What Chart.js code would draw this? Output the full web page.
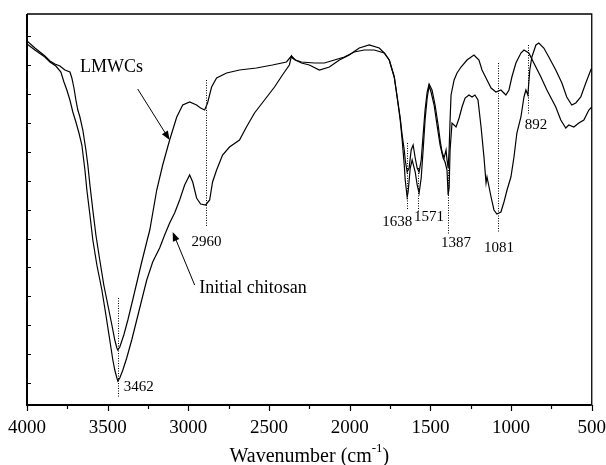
<!DOCTYPE html>
<html>
<head>
<meta charset="utf-8">
<script src="https://cdn.jsdelivr.net/npm/chart.js@4.4.0/dist/chart.umd.min.js"></script>
<style>
  html, body { margin: 0; padding: 0; background: #fff; }
  #wrap { width: 606px; height: 465px; position: relative; }
</style>
</head>
<body>
<div id="wrap"><canvas id="ftirChart"></canvas></div>
<script>
// Initial chitosan: wavenumber (cm-1) and transmittance (a.u.)
const chitosanWave = [4000,3951,3889,3858,3821,3790,3771,3753,3734,3716,
    3697,3678,3660,3641,3629,3610,3592,3567,3536,3511,
    3487,3468,3456,3443,3437,3425,3406,3382,3351,3320,
    3289,3258,3221,3178,3147,3116,3085,3054,3023,2992,
    2973,2949,2924,2893,2868,2850,2825,2788,2745,2683,
    2640,2590,2528,2466,2417,2374,2361,2355,2337,2299,
    2250,2188,2126,2064,2003,1941,1879,1817,1786,1755,
    1724,1706,1687,1675,1662,1656,1644,1638,1625,1613,
    1594,1582,1570,1557,1545,1533,1520,1508,1496,1477,
    1459,1440,1421,1409,1397,1390,1384,1378,1366,1341,
    1322,1304,1285,1261,1242,1224,1205,1186,1168,1155,
    1149,1124,1106,1088,1063,1044,1025,1001,982,964,
    939,920,908,896,884,871,846,828,797,766,
    723,685,655,624,599,568,537,506,500];
const chitosanTrans = [339,333,326,321,317,311,301,293,283,271,
    261,250,238,213,193,168,143,118,93,68,
    43,23,13,5,2,5,13,25,43,63,
    83,103,121,135,148,160,170,183,198,208,
    201,185,179,178,183,201,213,228,236,243,
    256,270,283,296,308,318,327,325,323,320,
    318,313,316,323,328,335,338,335,330,323,
    306,286,263,243,218,203,186,191,215,223,
    211,198,190,205,233,263,285,297,291,278,
    258,238,225,221,213,188,195,233,260,256,
    265,276,285,288,286,288,283,256,226,200,
    206,186,173,169,171,181,193,206,226,250,
    266,286,293,288,313,326,338,340,335,326,
    313,300,286,278,280,286,300,313,315];

// LMWCs
const lmwcWave = [4000,3951,3889,3858,3827,3796,3765,3734,3722,3709,
    3697,3685,3672,3654,3635,3623,3610,3592,3573,3549,
    3524,3499,3474,3456,3443,3437,3425,3400,3375,3345,
    3320,3289,3258,3239,3196,3159,3116,3072,3035,2992,
    2949,2924,2899,2881,2856,2825,2763,2683,2578,2479,
    2392,2361,2349,2337,2299,2219,2157,2095,2033,1972,
    1910,1848,1786,1755,1724,1706,1687,1675,1662,1656,
    1644,1632,1619,1607,1594,1582,1570,1557,1545,1533,
    1520,1508,1490,1471,1452,1440,1428,1415,1403,1397,
    1390,1384,1378,1372,1353,1335,1310,1273,1230,1199,
    1180,1149,1124,1094,1063,1032,1013,995,970,939,
    920,890,859,815,778,723,692,661,642,611,
    580,549,518,500];
const lmwcTrans = [342,335,327,322,319,317,313,311,305,295,
    283,273,266,253,233,218,198,173,148,123,
    98,78,58,43,35,33,36,48,63,83,
    100,121,141,153,193,218,243,266,278,281,
    278,275,273,280,296,305,310,313,315,318,
    321,327,325,323,321,320,320,323,326,331,
    333,333,330,323,306,286,265,248,233,223,
    211,215,233,238,225,215,211,223,248,273,
    291,299,293,278,258,243,231,225,233,223,
    215,233,263,288,303,310,316,323,328,323,
    313,303,295,291,293,288,293,306,320,330,
    333,330,320,306,293,276,263,255,258,256,
    260,263,273,276];

// axis tick labels (x) and unlabeled tick marks (y)
const xTickLabels = [4000, 3500, 3000, 2500, 2000, 1500, 1000, 500];
const yTickValues = [0, 28.9, 57.8, 86.7, 115.6, 144.5, 173.4, 202.3, 231.2, 260.1, 289, 317.9, 346.8];

// band assignments: dotted marker line and its label
const peakLabels = ['3462', '2960', '1638', '1571', '1387', '1081', '892'];
const peakWave = [3437, 2893, 1642, 1574, 1389, 1084, 895];
const peakTop = [85, 303, 240, 215, 218, 320, 338];
const peakBottom = [-14, 156, 173, 171, 148, 150, 268];
const peakLabelWave = [3307, 2887, 1706, 1508, 1341, 1075, 846];
const peakLabelTrans = [-4, 141, 161, 166, 140, 135, 258];

// curve names with arrows
const curveNames = ['LMWCs', 'Initial chitosan'];
const nameWave = [3477, 2599];
const nameTrans = [316, 95];
const arrowFromWave = [3314, 2961];
const arrowFromTrans = [294, 98];
const arrowToWave = [3116, 3097];
const arrowToTrans = [243, 151];

const SERIF = "'Liberation Serif', 'Times New Roman', serif";

function toPoints(xs, ys) {
    return xs.map((w, i) => ({ x: w, y: ys[i] }));
}

function drawArrow(ctx, x1, y1, x2, y2) {
    const ang = Math.atan2(y2 - y1, x2 - x1);
    const len = 9, half = 3.5;
    ctx.beginPath();
    ctx.moveTo(x1, y1);
    ctx.lineTo(x2 - Math.cos(ang) * len * 0.8, y2 - Math.sin(ang) * len * 0.8);
    ctx.stroke();
    ctx.beginPath();
    ctx.moveTo(x2, y2);
    ctx.lineTo(x2 - Math.cos(ang) * len - Math.sin(ang) * half, y2 - Math.sin(ang) * len + Math.cos(ang) * half);
    ctx.lineTo(x2 - Math.cos(ang) * len + Math.sin(ang) * half, y2 - Math.sin(ang) * len - Math.cos(ang) * half);
    ctx.closePath();
    ctx.fill();
}

// frame, tick marks, band markers, labels and axis title
const spectrumDecor = {
    id: 'spectrumDecor',
    afterDatasetsDraw(chart) {
        const { ctx, chartArea: a, scales: { x, y } } = chart;
        ctx.save();
        ctx.strokeStyle = '#000';
        ctx.fillStyle = '#000';

        // box
        ctx.lineWidth = 1.3;
        ctx.beginPath();
        ctx.moveTo(a.left, a.top);
        ctx.lineTo(a.right, a.top);
        ctx.lineTo(a.right, a.bottom);
        ctx.stroke();
        ctx.lineWidth = 2;
        ctx.beginPath();
        ctx.moveTo(a.left, a.top);
        ctx.lineTo(a.left, a.bottom);
        ctx.lineTo(a.right, a.bottom);
        ctx.stroke();

        // tick marks
        ctx.lineWidth = 1.2;
        ctx.beginPath();
        yTickValues.forEach(v => {
            const py = Math.round(y.getPixelForValue(v)) + 0.5;
            ctx.moveTo(a.left, py);
            ctx.lineTo(a.left + 4, py);
        });
        for (let w = 500; w <= 4000; w += 250) {
            const px = Math.round(x.getPixelForValue(w)) + 0.5;
            ctx.moveTo(px, a.bottom);
            ctx.lineTo(px, a.bottom + (w % 500 === 0 ? 6 : 4));
        }
        ctx.stroke();

        // dotted band markers
        ctx.lineWidth = 1;
        ctx.setLineDash([1, 1.5]);
        peakWave.forEach((w, i) => {
            const px = Math.round(x.getPixelForValue(w)) + 0.5;
            ctx.beginPath();
            ctx.moveTo(px, y.getPixelForValue(peakTop[i]));
            ctx.lineTo(px, y.getPixelForValue(peakBottom[i]));
            ctx.stroke();
        });
        ctx.setLineDash([]);

        ctx.textAlign = 'center';
        ctx.textBaseline = 'middle';
        ctx.font = '15px ' + SERIF;
        peakLabels.forEach((t, i) => {
            ctx.fillText(t, x.getPixelForValue(peakLabelWave[i]), y.getPixelForValue(peakLabelTrans[i]));
        });

        // curve names and arrows
        ctx.font = '18px ' + SERIF;
        curveNames.forEach((t, i) => {
            ctx.fillText(t, x.getPixelForValue(nameWave[i]), y.getPixelForValue(nameTrans[i]));
            ctx.lineWidth = 1;
            drawArrow(ctx,
                x.getPixelForValue(arrowFromWave[i]), y.getPixelForValue(arrowFromTrans[i]),
                x.getPixelForValue(arrowToWave[i]), y.getPixelForValue(arrowToTrans[i]));
        });

        // x axis title with superscript
        const main = 'Wavenumber (cm', sup = '-1', tail = ')';
        ctx.font = '20px ' + SERIF;
        const wMain = ctx.measureText(main).width;
        const wTail = ctx.measureText(tail).width;
        ctx.font = '13px ' + SERIF;
        const wSup = ctx.measureText(sup).width;
        let tx = (a.left + a.right) / 2 - (wMain + wSup + wTail) / 2;
        const ty = a.bottom + 52;
        ctx.textAlign = 'left';
        ctx.font = '20px ' + SERIF;
        ctx.fillText(main, tx, ty);
        tx += wMain;
        ctx.font = '13px ' + SERIF;
        ctx.fillText(sup, tx, ty - 8);
        tx += wSup;
        ctx.font = '20px ' + SERIF;
        ctx.fillText(tail, tx, ty);

        ctx.restore();
    }
};

function createSpectrumChart() {
    const ctx = document.getElementById('ftirChart').getContext('2d');

    new Chart(ctx, {
        type: 'line',
        data: {
            datasets: [
                {
                    label: 'Initial chitosan',
                    data: toPoints(chitosanWave, chitosanTrans),
                    borderColor: '#000',
                    borderWidth: 1.2,
                    pointRadius: 0,
                    tension: 0,
                    fill: false
                },
                {
                    label: 'LMWCs',
                    data: toPoints(lmwcWave, lmwcTrans),
                    borderColor: '#000',
                    borderWidth: 1.2,
                    pointRadius: 0,
                    tension: 0,
                    fill: false
                }
            ]
        },
        options: {
            responsive: true,
            maintainAspectRatio: false,
            animation: false,
            devicePixelRatio: 1,
            layout: {
                padding: { top: 14, right: 0, left: 0, bottom: 0 }
            },
            plugins: {
                legend: { display: false },
                tooltip: { enabled: false }
            },
            scales: {
                x: {
                    type: 'linear',
                    reverse: true,
                    min: 500,
                    max: 4000,
                    afterBuildTicks: scale => {
                        scale.ticks = xTickLabels.map(v => ({ value: v }));
                    },
                    afterFit: scale => { scale.height = 60; },
                    ticks: {
                        autoSkip: false,
                        maxRotation: 0,
                        padding: 0,
                        color: '#000',
                        font: { family: SERIF, size: 19 },
                        callback: v => String(v)
                    },
                    // invisible tick marks, only used to push the labels down
                    grid: {
                        display: true,
                        drawOnChartArea: false,
                        drawTicks: true,
                        tickLength: 12,
                        color: 'rgba(0,0,0,0)'
                    },
                    border: { display: false }
                },
                y: {
                    min: -22,
                    max: 369,
                    afterFit: scale => { scale.width = 27; },
                    ticks: { display: false },
                    grid: { display: false, drawTicks: false },
                    border: { display: false }
                }
            }
        },
        plugins: [spectrumDecor]
    });
}

createSpectrumChart();
</script>
</body>
</html>
